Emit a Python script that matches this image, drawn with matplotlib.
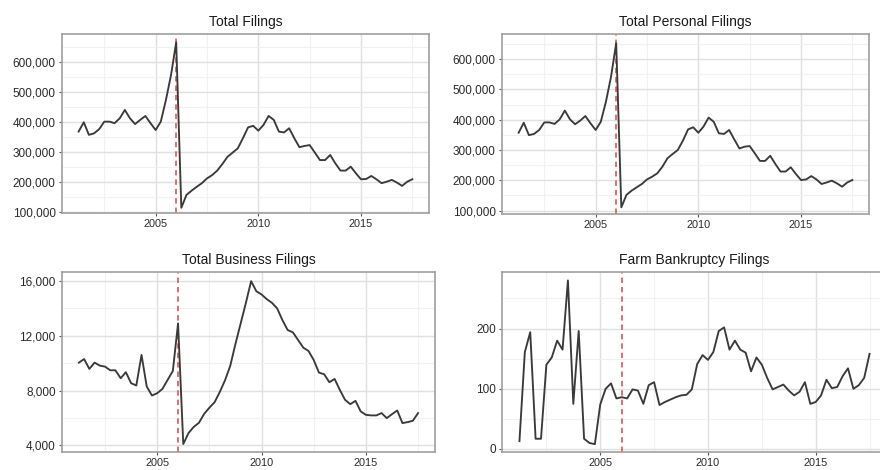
import numpy as np
import matplotlib
matplotlib.use("Agg")
import matplotlib.pyplot as plt
from matplotlib.ticker import FixedLocator, StrMethodFormatter

plt.rcParams['font.family'] = ['Liberation Sans', 'DejaVu Sans']

# quarterly observations, 2001 Q2 .. 2017 Q3 (decimal years)
quarters = np.arange(2001.25, 2017.51, 0.25)
reform_date = 2006.0

total_filings = [
    369000, 400000, 358000, 363000, 377000, 402000, 402000, 397000, 413000, 441000,
    413000, 394000, 408000, 421000, 397000, 374000, 402000, 474000, 558000, 666000,
    115000, 158000, 172000, 185000, 197000, 213000, 224000, 239000, 261000, 285000,
    299000, 313000, 347000, 383000, 388000, 372000, 391000, 421000, 408000, 369000,
    366000, 380000, 347000, 317000, 321000, 324000, 299000, 274000, 274000, 291000,
    263000, 239000, 239000, 252000, 230000, 210000, 211000, 221000, 210000, 197000,
    202000, 208000, 199000, 188000, 202000, 210000,
]

personal_filings = [
    357000, 390000, 349000, 353000, 366000, 391000, 391000, 386000, 401000, 430000,
    401000, 385000, 397000, 412000, 388000, 366000, 393000, 459000, 542000, 652000,
    111000, 152000, 166000, 177000, 188000, 203000, 212000, 223000, 245000, 273000,
    287000, 300000, 331000, 368000, 375000, 357000, 377000, 407000, 393000, 355000,
    353000, 366000, 335000, 305000, 311000, 313000, 289000, 264000, 264000, 281000,
    254000, 229000, 229000, 243000, 221000, 201000, 203000, 214000, 203000, 188000,
    193000, 199000, 190000, 179000, 193000, 201000,
]

business_filings = [
    10040, 10300, 9580, 10040, 9820, 9750, 9480, 9480, 8900, 9340,
    8540, 8370, 10600, 8290, 7640, 7810, 8120, 8780, 9430, 12900,
    4100, 4900, 5350, 5650, 6300, 6750, 7150, 7900, 8750, 9800,
    11400, 12900, 14400, 15980, 15250, 15010, 14670, 14400, 13990, 13140,
    12420, 12250, 11690, 11130, 10890, 10230, 9310, 9190, 8610, 8850,
    8050, 7330, 7010, 7250, 6480, 6230, 6190, 6190, 6360, 5990,
    6280, 6550, 5630, 5700, 5800, 6360,
]

farm_filings = [
    13, 161, 194, 17, 17, 140, 152, 180, 165, 280,
    75, 196, 17, 10, 8, 74, 100, 109, 84, 86,
    84, 99, 97, 75, 106, 111, 73, 78, 82, 86,
    89, 90, 99, 141, 156, 148, 161, 196, 202, 165,
    180, 165, 160, 129, 152, 140, 118, 99, 103, 107,
    97, 89, 95, 111, 75, 78, 89, 115, 101, 103,
    121, 134, 100, 106, 118, 158,
]

panels = [
    ("Total Filings", total_filings, [62, 34, 429, 213], (97700, 694000),
     [100000, 200000, 300000, 400000, 500000, 600000],
     [150000, 250000, 350000, 450000, 550000, 650000]),
    ("Total Personal Filings", personal_filings, [502, 34, 869, 214], (89000, 682500),
     [100000, 200000, 300000, 400000, 500000, 600000],
     [150000, 250000, 350000, 450000, 550000, 650000]),
    ("Total Business Filings", business_filings, [62, 272, 435, 452], (3520, 16650),
     [4000, 8000, 12000, 16000], [6000, 10000, 14000]),
    ("Farm Bankruptcy Filings", farm_filings, [502, 272, 887, 452], (-5, 294),
     [0, 100, 200], [50, 150, 250]),
]

W, H = 880, 470
fig = plt.figure(figsize=(W / 100, H / 100), dpi=100)
fig.patch.set_facecolor("white")

for title, values, box, ylim, yticks, yminor in panels:
    x0, y0, x1, y1 = box
    ax = fig.add_axes([x0 / W, 1 - y1 / H, (x1 - x0) / W, (y1 - y0) / H])
    ax.plot(quarters, values, color="#3a3a3a", lw=1.35, zorder=3)
    ax.axvline(reform_date, color="#e2625e", lw=1.3, ls=(0, (3, 2.2)), zorder=2)

    ax.set_xlim(2000.44, 2018.31)
    ax.set_ylim(*ylim)
    ax.xaxis.set_major_locator(FixedLocator([2005, 2010, 2015]))
    ax.xaxis.set_minor_locator(FixedLocator([2002.5, 2007.5, 2012.5, 2017.5]))
    ax.yaxis.set_major_locator(FixedLocator(yticks))
    ax.yaxis.set_minor_locator(FixedLocator(yminor))
    ax.yaxis.set_major_formatter(StrMethodFormatter("{x:,.0f}"))

    ax.grid(which="major", color="#e0e0e0", lw=1.0, zorder=0)
    ax.grid(which="minor", color="#f1f1f1", lw=0.8, zorder=0)
    ax.set_axisbelow(True)
    for s in ax.spines.values():
        s.set_color("#a0a0a0")
        s.set_linewidth(1.2)

    ax.tick_params(which="major", length=2.5, width=0.8, color="#555555",
                   labelcolor="#2a2a2a", pad=2)
    ax.tick_params(axis="y", labelsize=8.5)
    ax.tick_params(axis="x", labelsize=7.8)
    ax.tick_params(which="minor", length=0)
    ax.set_title(title, fontsize=10, color="#1a1a1a", pad=6)

fig.savefig("out.png", dpi=100)
